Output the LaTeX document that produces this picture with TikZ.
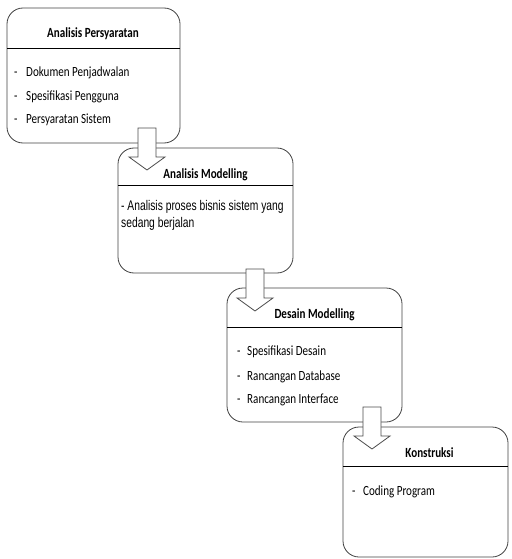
\documentclass[tikz,border=0pt]{standalone}
\usepackage{fontspec}
\setmainfont{Carlito}[FakeStretch=0.79]
\newfontfamily\arialn{Liberation Sans}[FakeStretch=0.735]
\begin{document}
\begin{tikzpicture}[x=1pt,y=-1pt,
  box/.style={draw=black!75,line width=0.8pt,rounded corners=16pt},
  hline/.style={draw=black,line width=0.9pt},
  ttl/.style={font=\bfseries\fontsize{14}{16}\selectfont,inner sep=0pt,anchor=base},
  item/.style={font=\fontsize{14}{16}\selectfont,inner sep=0pt,anchor=base west},
  aitem/.style={font=\arialn\fontsize{14}{16}\selectfont,inner sep=0pt,anchor=base west},
  barrow/.pic={\draw[draw=black!70,fill=white,line width=0.8pt,line join=miter]
     (-9,0) -- (9,0) -- (9,29) -- (18,29) -- (0,42) -- (-18,29) -- (-9,29) -- cycle;}
]
\useasboundingbox (0,0) rectangle (511,559);
% box 1
\draw[box] (7,8) rectangle (180,143);
\coordinate (h1l) at (7,48); \coordinate (h1r) at (180,48);
\draw[hline] (h1l) -- (h1r);
\node[ttl] (t1) at (93,38) {Analisis Persyaratan};
\node[item] (d11) at (14,77) {-};
\node[item] (i11) at (26,77) {Dokumen Penjadwalan};
\node[item] (d12) at (14,101) {-};
\node[item] (i12) at (26,101) {Spesifikasi Pengguna};
\node[item] (d13) at (14,124) {-};
\node[item] (i13) at (26,124) {Persyaratan Sistem};
% box 2
\draw[box] (118,148) rectangle (293,273);
\coordinate (h2l) at (118,185); \coordinate (h2r) at (293,185);
\draw[hline] (h2l) -- (h2r);
\node[ttl] (t2) at (205.5,178) {Analisis Modelling};
\node[aitem] (i21) at (121,210) {- Analisis proses bisnis sistem yang};
\node[aitem] (i22) at (121,227) {sedang berjalan};
% box 3
\draw[box] (227,288) rectangle (402,422);
\coordinate (h3l) at (227,327); \coordinate (h3r) at (402,327);
\draw[hline] (h3l) -- (h3r);
\node[ttl] (t3) at (314.5,318) {Desain Modelling};
\node[item] (d31) at (237,355) {-};
\node[item] (i31) at (247,355) {Spesifikasi Desain};
\node[item] (d32) at (237,380) {-};
\node[item] (i32) at (247,380) {Rancangan Database};
\node[item] (d33) at (237,403) {-};
\node[item] (i33) at (247,403) {Rancangan Interface};
% box 4
\draw[box] (343,427) rectangle (508,557);
\coordinate (h4l) at (343,466); \coordinate (h4r) at (508,466);
\draw[hline] (h4l) -- (h4r);
\node[ttl] (t4) at (429.5,457) {Konstruksi};
\node[item] (d41) at (352,495) {-};
\node[item] (i41) at (363,495) {Coding Program};
% arrows
\pic at (147,128) {barrow};
\pic at (255,269) {barrow};
\pic at (372,407) {barrow};
\end{tikzpicture}
\end{document}
